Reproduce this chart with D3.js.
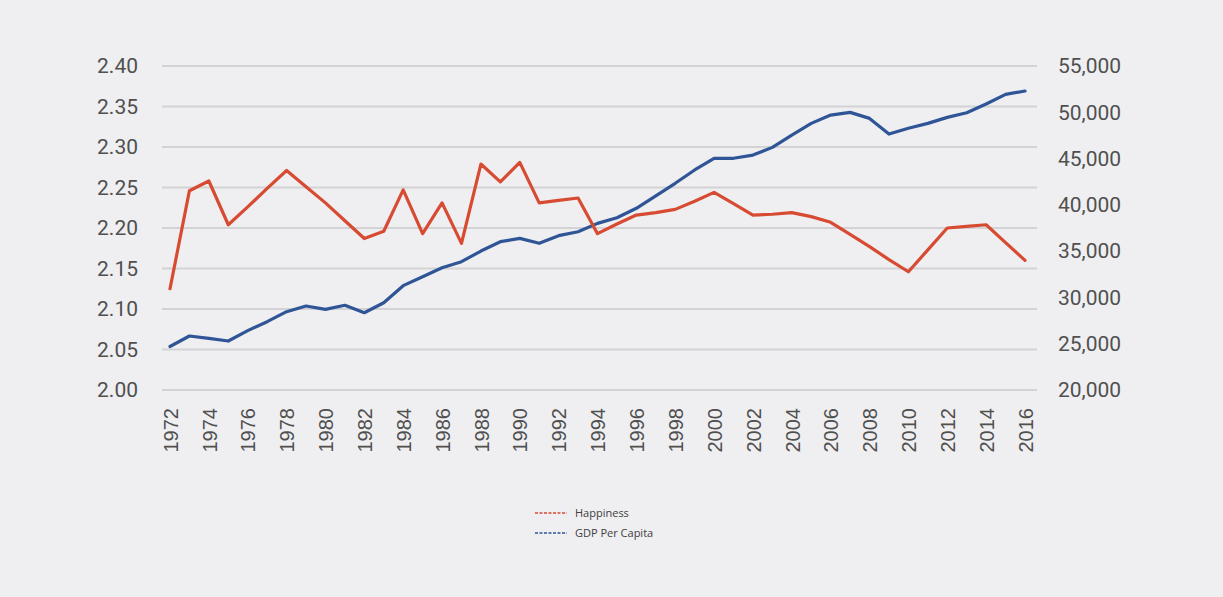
<!DOCTYPE html>
<html>
<head>
<meta charset="utf-8">
<script src="https://cdn.jsdelivr.net/npm/d3@7"></script>
<style>
  html, body { margin: 0; padding: 0; background: #efeff1; }
  svg { display: block; }
</style>
</head>
<body>
<svg id="chart" width="1223" height="597"></svg>
<script>
const years = d3.range(1972, 2017);
const happiness = [
  2.125, 2.246, 2.258, 2.204, 2.226, 2.249, 2.271, 2.251, 2.231, 2.209, 2.187,
  2.196, 2.247, 2.193, 2.231, 2.181, 2.279, 2.257, 2.281, 2.231, 2.234, 2.237,
  2.193, 2.205, 2.216, 2.219, 2.223, 2.233, 2.244, 2.230, 2.216, 2.217, 2.219,
  2.214, 2.207, 2.192, 2.177, 2.161, 2.146, 2.173, 2.200, 2.202, 2.204, 2.182, 2.160
];
const gdp = [
  24700, 25830, 25580, 25290, 26410, 27380, 28460, 29070, 28710, 29150, 28350,
  29430, 31270, 32240, 33200, 33860, 35010, 36020, 36380, 35850, 36670, 37100,
  38000, 38610, 39630, 40960, 42330, 43770, 45030, 45030, 45380, 46210, 47540,
  48800, 49700, 49990, 49340, 47650, 48270, 48800, 49450, 49950, 50890, 51940, 52300
];
const leftTicks = [2.00, 2.05, 2.10, 2.15, 2.20, 2.25, 2.30, 2.35, 2.40];
const rightTicks = [20000, 25000, 30000, 35000, 40000, 45000, 50000, 55000];
const yearTicks = d3.range(1972, 2017, 2);
const seriesNames = ["Happiness", "GDP Per Capita"];
const colors = ["#d84b33", "#2f5597"];

const svg = d3.select("#chart");
const plotLeft = 162, plotRight = 1037, plotTop = 66, plotBottom = 390;

const x = d3.scaleLinear().domain([1972, 2016]).range([170, 1025]);
const yL = d3.scaleLinear().domain([2.0, 2.4]).range([plotBottom, plotTop]);
const yR = d3.scaleLinear().domain([20000, 55000]).range([plotBottom, plotTop]);

// gridlines
svg.append("g").selectAll("line").data(leftTicks).join("line")
  .attr("x1", plotLeft).attr("x2", plotRight)
  .attr("y1", d => yL(d)).attr("y2", d => yL(d))
  .attr("stroke", "#d3d3d5").attr("stroke-width", 2);

// left axis
const axL = d3.axisLeft(yL).tickValues(leftTicks).tickFormat(d3.format(".2f")).tickSize(0).tickPadding(0);
const gL = svg.append("g").attr("transform", "translate(138,0)").call(axL);
gL.select(".domain").remove();
gL.selectAll("text").attr("font-family", "Roboto, 'Liberation Sans', sans-serif")
  .attr("font-size", 21).attr("fill", "#505050");

// right axis
const axR = d3.axisRight(yR).tickValues(rightTicks).tickFormat(d3.format(",")).tickSize(0).tickPadding(0);
const gR = svg.append("g").attr("transform", "translate(1058,0)").call(axR);
gR.select(".domain").remove();
gR.selectAll("text").attr("font-family", "Roboto, 'Liberation Sans', sans-serif")
  .attr("font-size", 21).attr("fill", "#505050");

// x axis
const axX = d3.axisBottom(x).tickValues(yearTicks).tickFormat(d3.format("d")).tickSize(0).tickPadding(0);
const gX = svg.append("g").attr("transform", "translate(0,408)").call(axX);
gX.select(".domain").remove();
gX.selectAll("text")
  .attr("font-family", "'Liberation Sans', Arial, sans-serif")
  .attr("font-size", 20).attr("fill", "#505050")
  .attr("text-anchor", "end")
  .attr("transform", "rotate(-90)")
  .attr("x", 0).attr("y", 0).attr("dy", "0.36em");

// lines
const lineL = d3.line().x((d, i) => x(years[i])).y(d => yL(d));
const lineR = d3.line().x((d, i) => x(years[i])).y(d => yR(d));
svg.append("path").datum(gdp).attr("d", lineR)
  .attr("fill", "none").attr("stroke", colors[1]).attr("stroke-width", 3.2)
  .attr("stroke-linejoin", "round").attr("stroke-linecap", "round");
svg.append("path").datum(happiness).attr("d", lineL)
  .attr("fill", "none").attr("stroke", colors[0]).attr("stroke-width", 3.2)
  .attr("stroke-linejoin", "round").attr("stroke-linecap", "round");

// legend
const leg = svg.append("g");
seriesNames.forEach((name, i) => {
  const yy = 513 + i * 20;
  leg.append("line").attr("x1", 535).attr("x2", 567).attr("y1", yy).attr("y2", yy)
    .attr("stroke", colors[i]).attr("stroke-width", 1.6).attr("stroke-dasharray", "3,1.5");
  leg.append("text").attr("x", 575).attr("y", yy).attr("dy", "0.35em")
    .attr("font-family", "'Open Sans', sans-serif").attr("font-size", 11)
    .attr("fill", "#404040").text(name);
});
</script>
</body>
</html>
